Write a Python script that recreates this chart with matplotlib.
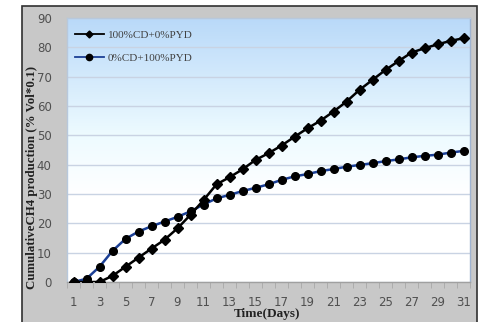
import numpy as np
import matplotlib
matplotlib.use("Agg")
import matplotlib.pyplot as plt
from matplotlib.patches import Rectangle
from matplotlib.colors import LinearSegmentedColormap
from matplotlib.lines import Line2D

days = list(range(1, 32))
cd100 = [0, 0, 0, 2.1, 5.2, 8.3, 11.4, 14.4, 18.3, 22.9, 27.9, 33.3, 35.7, 38.4, 41.6,
         43.9, 46.5, 49.5, 52.4, 55.0, 58.1, 61.5, 65.5, 68.9, 72.3, 75.3, 78.2, 79.7,
         81.0, 82.2, 83.1]
pyd100 = [0, 1.1, 5.2, 10.6, 14.7, 17.2, 19.0, 20.6, 22.2, 24.1, 26.4, 28.5, 29.7, 31.0,
          32.1, 33.3, 34.8, 36.0, 36.8, 37.8, 38.5, 39.3, 39.9, 40.5, 41.2, 41.8, 42.5,
          43.0, 43.4, 44.1, 44.7]
labels = ["100%CD+0%PYD", "0%CD+100%PYD"]
xtick_labels = [str(d) for d in range(1, 32, 2)]
yticks = list(range(0, 91, 10))

W, H = 486, 322
fig = plt.figure(figsize=(W/100, H/100), dpi=100)
fig.patch.set_facecolor("white")

# outer gray chart area
bg = Rectangle((22/W, -0.05), (477-22)/W, 1.05 - 6/H,
               transform=fig.transFigure, facecolor="#c8c8c8",
               edgecolor="#303030", linewidth=1.2, zorder=-10)
fig.patches.append(bg)

ax = fig.add_axes([67/W, (H-282)/H, (470-67)/W, (282-18)/H])
ax.set_zorder(1)
ax.set_facecolor("white")

# gradient background
cmap = LinearSegmentedColormap.from_list("bg", [(0, "#ffffff"), (0.33, "#ffffff"),
                                               (0.55, "#eefbff"), (1.0, "#b9d9f9")])
grad = np.linspace(0, 1, 256).reshape(-1, 1)
ax.imshow(grad, extent=[0.5, 31.5, 0, 90], aspect="auto", cmap=cmap, origin="lower", zorder=0)

ax.set_xlim(0.5, 31.5)
ax.set_ylim(0, 90)
ax.set_yticks(yticks)
ax.set_xticks(list(range(1, 32, 2)))
ax.set_xticklabels(xtick_labels)
ax.set_xticks(np.arange(0.5, 32, 1), minor=True)
ax.tick_params(axis="x", which="major", length=0, pad=10, labelsize=8.5, labelcolor="#505050")
ax.tick_params(axis="x", which="minor", length=4, color="#a8a8a8", direction="out")
ax.tick_params(axis="y", length=0, pad=11, labelsize=8.5, labelcolor="#505050")
for t in ax.get_xticklabels() + ax.get_yticklabels():
    t.set_family("DejaVu Sans")

ax.grid(axis="y", color="#c9d3e3", linewidth=1.0, zorder=1)
ax.set_axisbelow(True)
for s in ["top", "left"]:
    ax.spines[s].set_color("#b8c8dc")
ax.spines["right"].set_color("#9fb3d0")
ax.spines["bottom"].set_color("#a0a0a0")
for s in ax.spines.values():
    s.set_linewidth(1.0)

l2, = ax.plot(days, pyd100, color="#1b3f95", linewidth=1.8, marker="o", markersize=5.5,
              markerfacecolor="black", markeredgecolor="black", zorder=3)
l1, = ax.plot(days, cd100, color="black", linewidth=1.8, marker="D", markersize=5,
              markerfacecolor="black", markeredgecolor="black", zorder=4)

h1 = Line2D([], [], color="black", linewidth=1.3, marker="D", markersize=3.5,
            markerfacecolor="black")
h2 = Line2D([], [], color="#1b3f95", linewidth=1.3, marker="o", markersize=4.5,
            markerfacecolor="black", markeredgecolor="black")
leg = ax.legend([h1, h2], labels, loc="upper left", bbox_to_anchor=(0.0, 0.985),
                frameon=False, prop={"family": "Liberation Serif", "size": 8},
                handlelength=2.6, handletextpad=0.4, labelspacing=1.25, borderaxespad=0.3)
for t in leg.get_texts():
    t.set_color("#404040")

fig.text(32/W, (H-177)/H, "CumulativeCH4 production (% Vol*0.1)", rotation=90,
         ha="center", va="center", family="Liberation Serif", weight="bold",
         size=9.3, color="#222222", zorder=5)
fig.text(267/W, (H-314)/H, "Time(Days)", ha="center", va="center",
         family="Liberation Serif", weight="bold", size=9.5, color="#222222", zorder=5)

fig.savefig("out.png", dpi=100)
